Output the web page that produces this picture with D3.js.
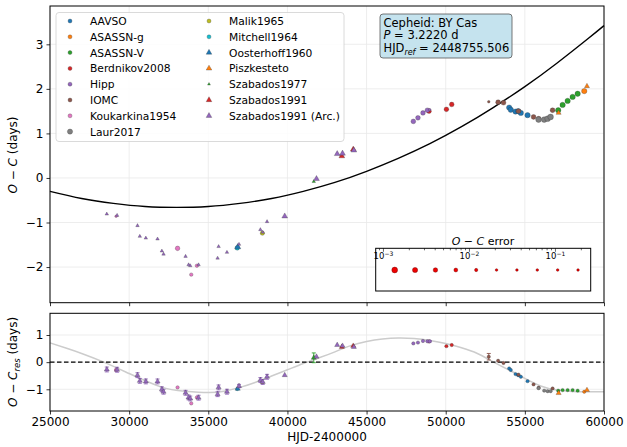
<!DOCTYPE html>
<html>
<head>
<meta charset="utf-8">
<script src="https://cdn.jsdelivr.net/npm/d3@7"></script>
<style>
body { margin: 0; background: #fff; }
text { font-family: "DejaVu Sans", sans-serif; }
</style>
</head>
<body>
<div id="chart"></div>
<script>
// data sources, in legend order
var sources = ["AAVSO", "ASASSN-g", "ASASSN-V", "Berdnikov2008", "Hipp", "IOMC", "Koukarkina1954", "Laur2017",
  "Malik1965", "Mitchell1964", "Oosterhoff1960", "Piszkesteto", "Szabados1977", "Szabados1991", "Szabados1991 (Arc.)"];
var srcColors = ["#1f77b4", "#ff7f0e", "#2ca02c", "#d62728", "#9467bd", "#8c564b", "#e377c2", "#7f7f7f",
  "#bcbd22", "#17becf", "#1f77b4", "#ff7f0e", "#2ca02c", "#d62728", "#9467bd"];
var srcTriangle = [false, false, false, false, false, false, false, false, false, false, true, true, true, true, true];

// [source index, HJD-2400000, O-C, O-C residual, O-C error]
var points = [
  [14, 28588, -0.81, -0.27, 0.09], [6, 29177, -0.86, -0.29, 0.03], [14, 29240, -0.84, -0.28, 0.09],
  [14, 30527, -1.07, -0.48, 0.09], [14, 30675, -1.31, -0.69, 0.09], [14, 31055, -1.35, -0.71, 0.09],
  [14, 31793, -1.37, -0.71, 0.09], [14, 32068, -1.64, -1.00, 0.09], [14, 32173, -1.71, -1.09, 0.09],
  [6, 33059, -1.58, -0.93, 0.004], [14, 33565, -1.76, -1.13, 0.09], [14, 33755, -1.95, -1.30, 0.09],
  [14, 33860, -1.97, -1.34, 0.09], [6, 33924, -2.17, -1.52, 0.01], [6, 34280, -1.97, -1.30, 0.01],
  [14, 34386, -1.95, -1.31, 0.09], [14, 35589, -1.80, -1.18, 0.09], [14, 35652, -1.54, -0.93, 0.09],
  [14, 36180, -1.67, -1.09, 0.09], [9, 36830, -1.57, -0.99, 0.004], [10, 36860, -1.55, -0.98, 0.004],
  [14, 36942, -1.49, -0.88, 0.06], [14, 38291, -1.16, -0.66, 0.09], [8, 38418, -1.24, -0.75, 0.005],
  [14, 38440, -1.22, -0.73, 0.09], [14, 38713, -0.98, -0.54, 0.09], [14, 39829, -0.86, -0.48, 0.005],
  [12, 41665, -0.08, 0.16, 0.18], [14, 41835, -0.02, 0.20, 0.005],
  [14, 43145, 0.54, 0.63, 0.005], [13, 43437, 0.49, 0.56, 0.005], [14, 43480, 0.55, 0.60, 0.005],
  [13, 44158, 0.64, 0.60, 0.005], [14, 44196, 0.62, 0.56, 0.005],
  [4, 47955, 1.27, 0.69, 0.0035], [4, 48246, 1.35, 0.72, 0.0035], [4, 48563, 1.46, 0.78, 0.0035],
  [4, 48841, 1.52, 0.77, 0.0035], [4, 48990, 1.53, 0.77, 0.03],
  [3, 48944, 1.50, 0.76, 0.0035], [3, 50043, 1.54, 0.59, 0.0035], [3, 50380, 1.65, 0.63, 0.0035],
  [5, 52720, 1.71, 0.20, 0.12], [5, 53310, 1.70, 0.05, 0.003], [5, 53650, 1.69, -0.03, 0.003],
  [5, 54600, 1.50, -0.46, 0.003], [5, 55550, 1.37, -0.82, 0.003], [5, 55873, 1.33, -0.94, 0.003],
  [5, 56752, 1.52, -0.97, 0.003],
  [0, 54010, 1.58, -0.23, 0.002], [0, 54110, 1.53, -0.29, 0.002], [0, 54410, 1.49, -0.44, 0.002],
  [0, 54575, 1.50, -0.48, 0.002], [0, 54746, 1.46, -0.54, 0.002], [0, 55170, 1.41, -0.70, 0.002],
  [7, 55866, 1.31, -0.96, 0.0015], [7, 56222, 1.31, -1.05, 0.0015], [7, 56437, 1.33, -1.07, 0.0015],
  [7, 56626, 1.37, -1.07, 0.0015],
  [2, 57108, 1.52, -1.05, 0.002], [2, 57385, 1.64, -1.03, 0.002], [2, 57702, 1.73, -1.03, 0.002],
  [2, 58018, 1.82, -1.03, 0.002], [2, 58335, 1.89, -1.05, 0.002],
  [1, 58752, 1.95, -1.09, 0.002],
  [11, 57133, 1.46, -1.14, 0.008], [11, 58924, 2.06, -1.03, 0.008]
];

// fitted curves
var fitHjd = [25000, 27000, 29000, 31000, 33000, 35000, 37000, 39000, 41000, 43000, 45000, 47000, 49000, 51000, 53000, 55000, 57000, 59000, 60000];
var fitOC = [-0.30, -0.46, -0.57, -0.64, -0.66, -0.64, -0.57, -0.46, -0.30, -0.10, 0.15, 0.44, 0.77, 1.15, 1.58, 2.05, 2.57, 3.13, 3.42];
var resHjd = [25000, 26000, 27000, 28400, 30000, 32000, 33500, 35000, 36000, 37000, 38000, 39000, 40000, 41000, 42000, 43000, 44000, 45000, 46000, 47000, 48000, 49000, 50000, 51000, 52000, 53000, 54000, 55000, 56000, 57000, 58000, 59000, 60000];
var resOC = [0.71, 0.52, 0.32, 0.0, -0.42, -0.91, -1.07, -1.12, -1.07, -0.93, -0.74, -0.51, -0.28, -0.05, 0.16, 0.38, 0.61, 0.76, 0.85, 0.89, 0.87, 0.80, 0.69, 0.53, 0.32, 0.01, -0.29, -0.60, -0.88, -1.03, -1.08, -1.09, -1.09];

var errLegend = [0.0014, 0.0024, 0.0041, 0.0070, 0.0121, 0.0208, 0.0358, 0.062, 0.106, 0.185];
var xTicks = [25000, 30000, 35000, 40000, 45000, 50000, 55000, 60000];

var width = 627, height = 447;
var svg = d3.select("#chart").append("svg").attr("width", width).attr("height", height);

var x = d3.scaleLinear().domain([25000, 60000]).range([50, 604]);
var yTop = d3.scaleLinear().domain([-2.8, 3.86]).range([302.7, 6]);
var yBot = d3.scaleLinear().domain([-1.8, 1.8]).range([411, 313.3]);
var rScale = d3.scaleLog().domain([0.0014, 0.021]).range([2.9, 1.3]).clamp(true);
var gridCol = "#e8e8e8";

function marker(sel, tri, r) {
  if (tri) {
    sel.append("path").attr("d", d3.symbol().type(d3.symbolTriangle).size(Math.PI * r * r)());
  } else {
    sel.append("circle").attr("r", r);
  }
}

// ---------- top panel ----------
var topG = svg.append("g");
topG.selectAll(".gx").data(xTicks).enter().append("line")
  .attr("x1", d => x(d)).attr("x2", d => x(d)).attr("y1", 6).attr("y2", 302.7)
  .attr("stroke", gridCol).attr("stroke-width", 0.8);
topG.selectAll(".gy").data([-2, -1, 0, 1, 2, 3]).enter().append("line")
  .attr("x1", 50).attr("x2", 604).attr("y1", d => yTop(d)).attr("y2", d => yTop(d))
  .attr("stroke", gridCol).attr("stroke-width", 0.8);

topG.append("path")
  .datum(d3.zip(fitHjd, fitOC))
  .attr("fill", "none").attr("stroke", "#000").attr("stroke-width", 1.4)
  .attr("d", d3.line().x(d => x(d[0])).y(d => yTop(d[1])).curve(d3.curveNatural));

sources.forEach(function(s, i) {
  points.filter(p => p[0] === i).forEach(function(p) {
    var g = topG.append("g").attr("transform", "translate(" + x(p[1]) + "," + yTop(p[2]) + ")")
      .attr("fill", srcColors[i]).attr("stroke", "#333").attr("stroke-width", 0.4).attr("stroke-opacity", 0.7);
    marker(g, srcTriangle[i], rScale(p[4]));
  });
});

topG.append("g").attr("transform", "translate(0,302.7)")
  .call(d3.axisBottom(x).tickValues(xTicks).tickSize(3.5).tickFormat(""));
topG.append("g").attr("transform", "translate(50,0)")
  .call(d3.axisLeft(yTop).tickValues([-2, -1, 0, 1, 2, 3]).tickSize(3.5).tickFormat(d3.format("d")));
topG.append("rect").attr("x", 50).attr("y", 6).attr("width", 554).attr("height", 296.7)
  .attr("fill", "none").attr("stroke", "#000").attr("stroke-width", 1);

// legend
var leg = topG.append("g");
leg.append("rect").attr("x", 56).attr("y", 12.5).attr("width", 288).attr("height", 129).attr("rx", 3)
  .attr("fill", "#fff").attr("fill-opacity", 0.85).attr("stroke", "#d0d0d0").attr("stroke-width", 0.8);
sources.forEach(function(s, i) {
  var col = i < 8 ? 0 : 1, row = i < 8 ? i : i - 8;
  var lx = col === 0 ? 70 : 209, ly = 21 + row * 15.8;
  var lr = s === "Laur2017" ? 2.6 : (s === "Szabados1977" ? 1.1 : (srcTriangle[i] ? 2.1 : 2));
  var g = leg.append("g").attr("transform", "translate(" + lx + "," + ly + ")")
    .attr("fill", srcColors[i]).attr("stroke", "#333").attr("stroke-width", 0.4).attr("stroke-opacity", 0.7);
  marker(g, srcTriangle[i], lr);
  leg.append("text").attr("x", lx + 20).attr("y", ly + 4).attr("font-size", "10.7px").text(s);
});

// info box
var info = topG.append("g");
info.append("rect").attr("x", 380).attr("y", 14).attr("width", 132).attr("height", 44).attr("rx", 3)
  .attr("fill", "#c5e3ee").attr("stroke", "#555").attr("stroke-width", 0.8);
info.append("text").attr("x", 383.5).attr("y", 26.5).attr("font-size", "11.5px").text("Cepheid: BY Cas");
var t2 = info.append("text").attr("x", 383.5).attr("y", 39.3).attr("font-size", "11.5px");
t2.append("tspan").attr("font-style", "italic").text("P");
t2.append("tspan").text(" = 3.2220 d");
var t3 = info.append("text").attr("x", 383.5).attr("y", 52).attr("font-size", "11.5px");
t3.append("tspan").text("HJD");
t3.append("tspan").attr("font-style", "italic").attr("font-size", "8px").attr("dy", 2.5).text("ref");
t3.append("tspan").attr("dy", -2.5).text(" = 2448755.506");

// O-C error size legend
var el = topG.append("g");
var xe = d3.scaleLog().domain([Math.pow(10, -3.09), Math.pow(10, -0.59)]).range([375.7, 590.7]);
el.append("rect").attr("x", 375.7).attr("y", 248.3).attr("width", 215).attr("height", 42.7)
  .attr("fill", "#fff").attr("stroke", "#000").attr("stroke-width", 1);
var et = el.append("text").attr("x", 483).attr("y", 245).attr("text-anchor", "middle").attr("font-size", "11px");
et.append("tspan").attr("font-style", "italic").text("O");
et.append("tspan").text(" − ");
et.append("tspan").attr("font-style", "italic").text("C");
et.append("tspan").text(" error");
var minor = [];
[-4, -3, -2, -1].forEach(function(e) {
  for (var k = 1; k < 10; k++) minor.push(k * Math.pow(10, e));
});
minor = minor.filter(v => v >= xe.domain()[0] && v <= xe.domain()[1]);
el.selectAll(".mt").data(minor).enter().append("line")
  .attr("x1", d => xe(d)).attr("x2", d => xe(d)).attr("y1", 248.3)
  .attr("y2", d => (Math.abs(Math.log10(d) - Math.round(Math.log10(d))) < 1e-6 ? 251.8 : 250.3))
  .attr("stroke", "#000").attr("stroke-width", 0.6);
[-3, -2, -1].forEach(function(e) {
  var tt = el.append("text").attr("x", xe(Math.pow(10, e))).attr("y", 259).attr("text-anchor", "middle")
    .attr("font-size", "8.5px");
  tt.append("tspan").text("10");
  tt.append("tspan").attr("dy", -3.5).attr("font-size", "6px").text("−" + Math.abs(e));
});
errLegend.forEach(function(v, i) {
  el.append("circle").attr("cx", 394.7 + i * 20.37).attr("cy", 270).attr("r", rScale(v))
    .attr("fill", "#ee0000").attr("stroke", "#600").attr("stroke-width", 0.4);
});

topG.append("text").attr("transform", "translate(17,155) rotate(-90)").attr("text-anchor", "middle")
  .attr("font-size", "12px")
  .html('<tspan font-style="italic">O</tspan> − <tspan font-style="italic">C</tspan> (days)');

// ---------- bottom panel ----------
var botG = svg.append("g");
botG.selectAll(".gx").data(xTicks).enter().append("line")
  .attr("x1", d => x(d)).attr("x2", d => x(d)).attr("y1", 313.3).attr("y2", 411)
  .attr("stroke", gridCol).attr("stroke-width", 0.8);
botG.selectAll(".gy").data([-1, 0, 1]).enter().append("line")
  .attr("x1", 50).attr("x2", 604).attr("y1", d => yBot(d)).attr("y2", d => yBot(d))
  .attr("stroke", gridCol).attr("stroke-width", 0.8);

botG.append("path")
  .datum(d3.zip(resHjd, resOC))
  .attr("fill", "none").attr("stroke", "#cccccc").attr("stroke-width", 1.5)
  .attr("d", d3.line().x(d => x(d[0])).y(d => yBot(d[1])).curve(d3.curveNatural));
botG.append("line").attr("x1", 50).attr("x2", 604).attr("y1", yBot(0)).attr("y2", yBot(0))
  .attr("stroke", "#000").attr("stroke-width", 1.1).attr("stroke-dasharray", "4.5,2.5");

sources.forEach(function(s, i) {
  points.filter(p => p[0] === i).forEach(function(p) {
    var px = x(p[1]), y0 = yBot(p[3] - p[4]), y1 = yBot(p[3] + p[4]);
    var g = botG.append("g").attr("stroke", srcColors[i]).attr("stroke-width", 0.9);
    g.append("line").attr("x1", px).attr("x2", px).attr("y1", y0).attr("y2", y1);
    if (p[4] > 0.02) {
      g.append("line").attr("x1", px - 2).attr("x2", px + 2).attr("y1", y0).attr("y2", y0);
      g.append("line").attr("x1", px - 2).attr("x2", px + 2).attr("y1", y1).attr("y2", y1);
    }
    var m = botG.append("g").attr("transform", "translate(" + px + "," + yBot(p[3]) + ")")
      .attr("fill", srcColors[i]).attr("stroke", "#333").attr("stroke-width", 0.4).attr("stroke-opacity", 0.7);
    marker(m, srcTriangle[i], srcTriangle[i] ? 1.9 : 1.7);
  });
});

botG.append("g").attr("transform", "translate(0,411)")
  .call(d3.axisBottom(x).tickValues(xTicks).tickSize(3.5).tickFormat(d3.format("d")));
botG.append("g").attr("transform", "translate(50,0)")
  .call(d3.axisLeft(yBot).tickValues([-1, 0, 1]).tickSize(3.5).tickFormat(d3.format("d")));
botG.append("rect").attr("x", 50).attr("y", 313.3).attr("width", 554).attr("height", 97.7)
  .attr("fill", "none").attr("stroke", "#000").attr("stroke-width", 1);

botG.append("text").attr("transform", "translate(17,362) rotate(-90)").attr("text-anchor", "middle")
  .attr("font-size", "12px")
  .html('<tspan font-style="italic">O</tspan> − <tspan font-style="italic">C</tspan><tspan font-style="italic" font-size="8.5px" dy="3">res</tspan><tspan dy="-3"> (days)</tspan>');
botG.append("text").attr("x", 327).attr("y", 441).attr("text-anchor", "middle").attr("font-size", "12px")
  .text("HJD-2400000");

svg.selectAll(".tick text").attr("font-size", "12px").attr("font-family", "DejaVu Sans").attr("fill", "#000");
svg.selectAll(".domain").remove();
svg.selectAll(".tick line").attr("stroke", "#000").attr("stroke-width", 0.8);
</script>
</body>
</html>
